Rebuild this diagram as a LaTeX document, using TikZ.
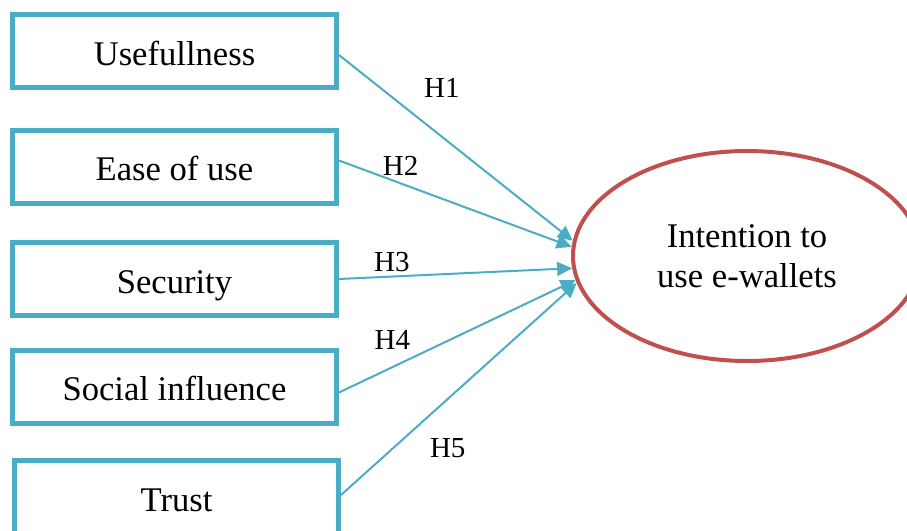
\documentclass[tikz,border=0pt]{standalone}
\usepackage{fontspec}
\setmainfont{Liberation Serif}
\usetikzlibrary{arrows.meta,shapes.geometric}
\definecolor{boxblue}{HTML}{4BACC6}
\definecolor{ovalred}{HTML}{C0504D}

\begin{document}
\begin{tikzpicture}[x=0.5pt, y=-0.5pt]
	\tikzset{factor/.style={draw=boxblue, line width=2.5pt, rectangle, minimum width=162pt, minimum height=36.5pt, inner sep=0pt, text height=14pt, text depth=0pt, font=\fontsize{17.3}{20}\selectfont}}
	\tikzset{hyp lines/.style={boxblue, line width=1pt, -{Triangle[length=7.5pt,width=7pt]}}}
	\tikzset{hyp label/.style={font=\fontsize{14.5}{17}\selectfont, inner sep=0pt, black}}
	% \draw (0, 0) grid (907, 531);
	\useasboundingbox (0, 0) rectangle (907, 531);
	\node [factor] (useful) at (174.5, 51) {Usefullness};
	\node [factor] (ease) at (174.5, 166.5) {Ease of use};
	\node [factor] (secure) at (174.5, 279) {Security};
	\node [factor] (social) at (174.5, 386.5) {Social influence};
	\node [factor] (trust) at (176.5, 497) {Trust};
	\node [draw=ovalred, line width=2pt, ellipse, minimum width=174pt, minimum height=105pt, align=center, font=\fontsize{17.3}{20}\selectfont] (intent) at (747, 256) {Intention to\\use e-wallets};
	\draw [hyp lines] ([yshift=-2pt]useful.east) to node[hyp label, pos=0.44, yshift=24.5pt] {H1} (intent.175);
	\draw [hyp lines] ([yshift=3pt]ease.east) to node[hyp label, pos=0.265, yshift=8.5pt] {H2} (intent.177);
	\draw [hyp lines] (secure.east) to node[hyp label, pos=0.227, yshift=7.5pt] {H3} (intent.184);
	\draw [hyp lines] ([yshift=-3pt]social.east) to node[hyp label, pos=0.226, yshift=13.5pt] {H4} (intent.188);
	\draw [hyp lines] ([yshift=1pt]trust.east) to node[hyp label, pos=0.453, yshift=-24.7pt] {H5} (intent.189);
\end{tikzpicture}
\end{document}
